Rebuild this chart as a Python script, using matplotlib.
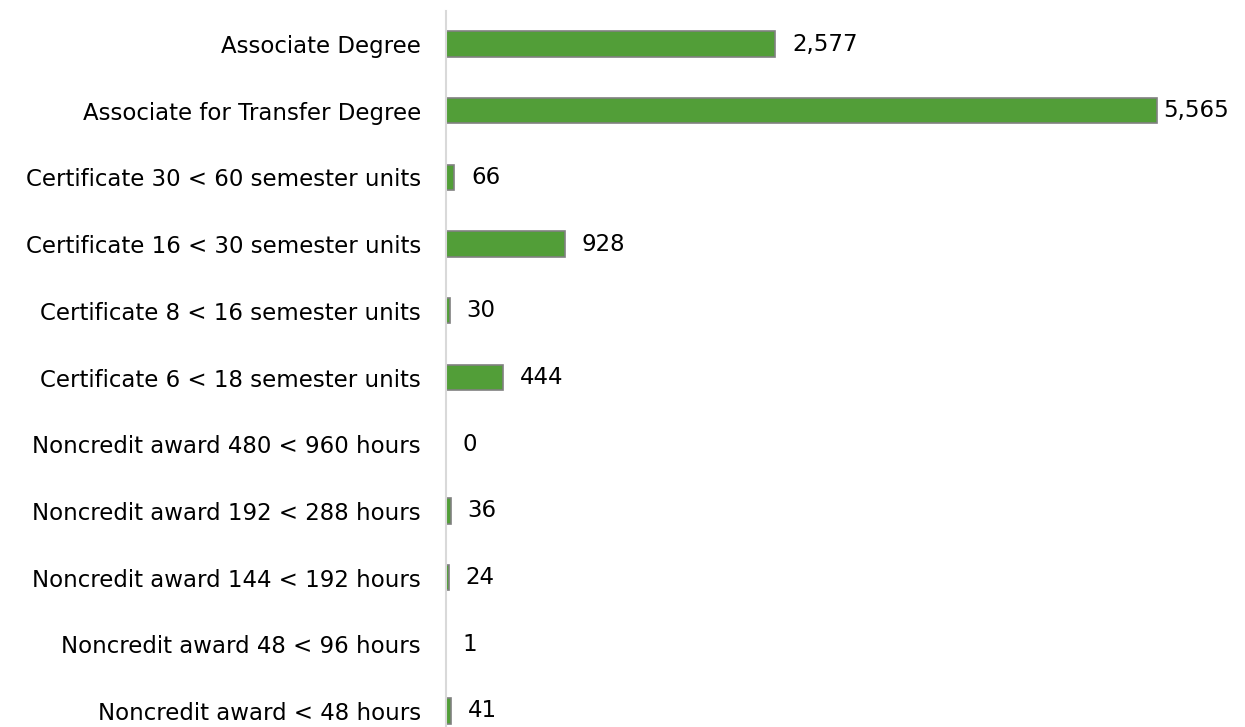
import matplotlib
matplotlib.use("Agg")
import matplotlib.pyplot as plt

categories = [
    "Associate Degree",
    "Associate for Transfer Degree",
    "Certificate 30 < 60 semester units",
    "Certificate 16 < 30 semester units",
    "Certificate 8 < 16 semester units",
    "Certificate 6 < 18 semester units",
    "Noncredit award 480 < 960 hours",
    "Noncredit award 192 < 288 hours",
    "Noncredit award 144 < 192 hours",
    "Noncredit award 48 < 96 hours",
    "Noncredit award < 48 hours",
]
values = [2577, 5565, 66, 928, 30, 444, 0, 36, 24, 1, 41]

W, H = 1245, 727
fig = plt.figure(figsize=(W / 100, H / 100), dpi=100)
left, top, bottom = 446, 11, 727
ax = fig.add_axes([left / W, 1 - bottom / H, (W - left) / W, (bottom - top) / H])

font = "DejaVu Sans"
fs = 16.5
pos = list(range(len(categories)))
ax.barh(pos, values, height=0.38, color="#529E38", edgecolor="#808080", linewidth=1.2)

vmax = max(values)
for p, v in zip(pos, values):
    off = 4 if v == vmax else 12
    ax.annotate(f"{v:,}", xy=(v, p), xytext=(off, 0), textcoords="offset points",
                va="center", ha="left", fontsize=fs, family=font, color="black")

ax.set_yticks(pos)
ax.set_yticklabels(categories, fontsize=fs, family=font, color="black")
ax.tick_params(axis="y", length=0, pad=18)
ax.set_xticks([])
ax.set_xlim(0, (W - left) / 0.1278)
ax.set_ylim(10.24, -0.495)
for s in ["top", "right", "bottom"]:
    ax.spines[s].set_visible(False)
ax.spines["left"].set_color("#d9d9d9")
ax.spines["left"].set_linewidth(1.5)

fig.savefig("out.png", dpi=100)
